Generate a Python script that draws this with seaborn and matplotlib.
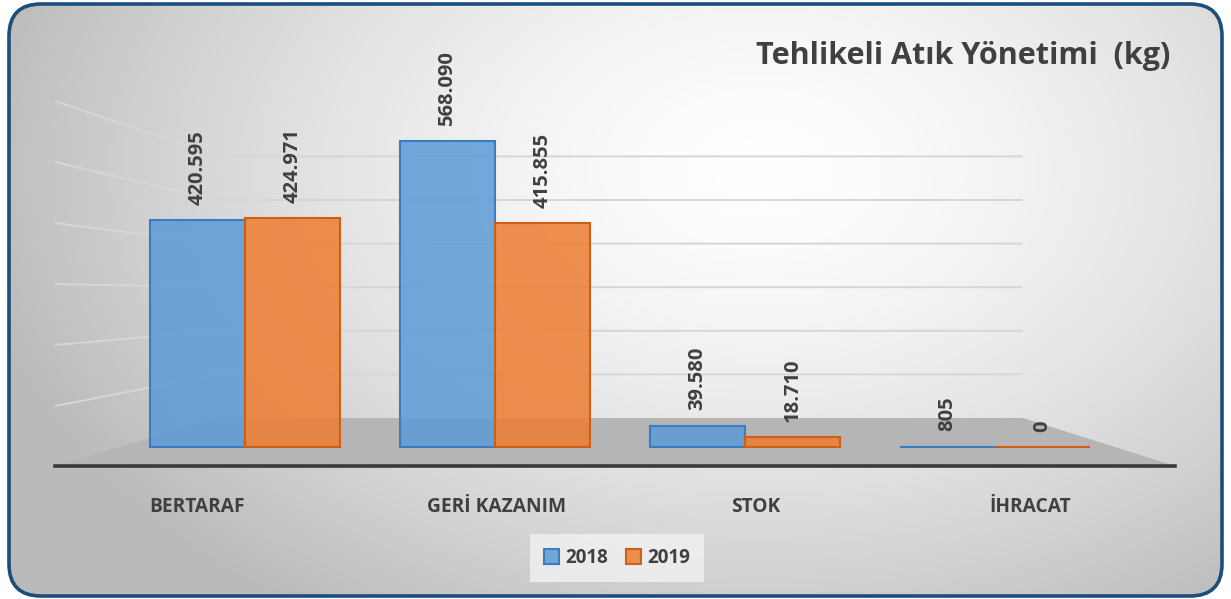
import numpy as np
import pandas as pd
import matplotlib
matplotlib.use("Agg")
import matplotlib.pyplot as plt
from matplotlib.patches import FancyBboxPatch, Polygon, Patch
from matplotlib.transforms import ScaledTranslation
import seaborn as sns

# ---- data ----
categories = ["BERTARAF", "GERİ KAZANIM", "STOK", "İHRACAT"]
years = ["2018", "2019"]
values_2018 = [420595, 568090, 39580, 805]
values_2019 = [424971, 415855, 18710, 0]
title = "Tehlikeli Atık Yönetimi  (kg)"
grid_values = [100000, 200000, 300000, 400000, 500000, 600000]

df = pd.DataFrame({
    "kategori": categories * 2,
    "yil": [years[0]] * 4 + [years[1]] * 4,
    "deger": values_2018 + values_2019,
})

sns.set_theme(style="white")
plt.rcParams["font.family"] = ["Open Sans", "DejaVu Sans"]
plt.rcParams["font.weight"] = "bold"

W, H = 1231, 599
fig = plt.figure(figsize=(W / 100, H / 100), dpi=100)
fig.patch.set_facecolor("white")

# ---- background with radial gradient inside rounded frame ----
bg = fig.add_axes([0, 0, 1, 1], zorder=0)
bg.set_xlim(0, W)
bg.set_ylim(0, H)
bg.axis("off")
yy, xx = np.mgrid[0:H, 0:W]
d = np.hypot((xx - 760) / 800.0, (yy - (H - 170)) / 540.0)
g = 1.0 - 0.27 * np.clip(d, 0, 1) ** 1.5
img = np.dstack([g, g, g])
frame = FancyBboxPatch((9, 3), W - 18, H - 7,
                       boxstyle="round,pad=0,rounding_size=32",
                       facecolor="none", edgecolor="#1f4d7a", linewidth=2.6,
                       transform=bg.transData, zorder=3)
im = bg.imshow(img, extent=[0, W, 0, H], origin="lower", aspect="auto", zorder=1)
im.set_clip_path(frame)
bg.add_patch(frame)

rect = [55 / W, 133 / H, 1120 / W, 396.3 / H]
xlim = (-0.76, 3.72)

# ---- gridline axes (back wall scale) ----
gax = fig.add_axes(rect, zorder=1)
gax.set_xlim(*xlim)
gax.set_ylim(-110092, 798853)
gax.axis("off")
for v in grid_values:
    gax.plot([-0.76, -0.11, 3.11], [v * 1.399 - 112385, v, v],
             color="#d6d6d6", lw=1.4, solid_capstyle="butt")

# ---- main axes ----
ax = fig.add_axes(rect, zorder=2)
ax.patch.set_alpha(0)

palette = {"2018": "#5b9bd5", "2019": "#ed7d31"}
edges = {"2018": "#3a7cc2", "2019": "#cf5f17"}
sns.barplot(data=df, x="kategori", y="deger", hue="yil", order=categories,
            hue_order=years, palette=palette, width=0.76, gap=0,
            ax=ax, legend=False, zorder=3)

for yr, cont in zip(years, ax.containers):
    for bar in cont:
        bar.set_alpha(None)
        bar.set_facecolor(matplotlib.colors.to_rgba(palette[yr], 0.85))
        bar.set_edgecolor(edges[yr])
        bar.set_linewidth(1.5)

# floor
floor = Polygon([(-0.76, -35250), (-0.112, 53800), (3.112, 53800), (3.72, -35250)],
                closed=True, facecolor="#b5b5b5", edgecolor="none", zorder=1)
ax.add_patch(floor)

# value labels
for cont in ax.containers:
    for bar in cont:
        h = bar.get_height()
        lbl = f"{int(round(h)):,}".replace(",", ".")
        ax.annotate(lbl, xy=(bar.get_x() + bar.get_width() / 2, h),
                    xytext=(0, 11), textcoords="offset points",
                    rotation=90, ha="center", va="bottom",
                    fontsize=14.5, fontweight="bold", color="#404040", zorder=5)

ax.set_xlim(*xlim)
ax.set_ylim(-35250, 700000)
ax.set_yticks([])
ax.set_xlabel("")
ax.set_ylabel("")
for s in ["top", "left", "right"]:
    ax.spines[s].set_visible(False)
ax.spines["bottom"].set_color("#3a3a3a")
ax.spines["bottom"].set_linewidth(2.6)
ax.tick_params(axis="x", length=0, pad=22, labelsize=13.8, labelcolor="#404040")
# perspective shift of category labels (pixels)
label_shift_px = [-48, 2, 11, 35]
for t, dx in zip(ax.get_xticklabels(), label_shift_px):
    t.set_fontweight("bold")
    t.set_transform(t.get_transform() + ScaledTranslation(dx / 100, 0, fig.dpi_scale_trans))

# title
fig.text(1170 / W, 1 - 56 / H, title, ha="right", va="center",
         fontsize=22, fontweight="bold", color="#404040")

# legend
handles = [Patch(facecolor=matplotlib.colors.to_rgba(palette[y], 0.85),
                 edgecolor=edges[y], linewidth=1.5, label=y) for y in years]
leg = fig.legend(handles=handles, loc="center", bbox_to_anchor=(617 / W, 1 - 558 / H),
                 ncol=2, frameon=True, fancybox=False, handlelength=0.8,
                 handleheight=0.8, handletextpad=0.3, columnspacing=1.0,
                 prop={"size": 13.5, "weight": "bold"}, borderpad=0.75)
leg.get_frame().set_facecolor("#f2f2f2")
leg.get_frame().set_edgecolor("none")
for t in leg.get_texts():
    t.set_color("#404040")

fig.savefig("out.png", dpi=100)
